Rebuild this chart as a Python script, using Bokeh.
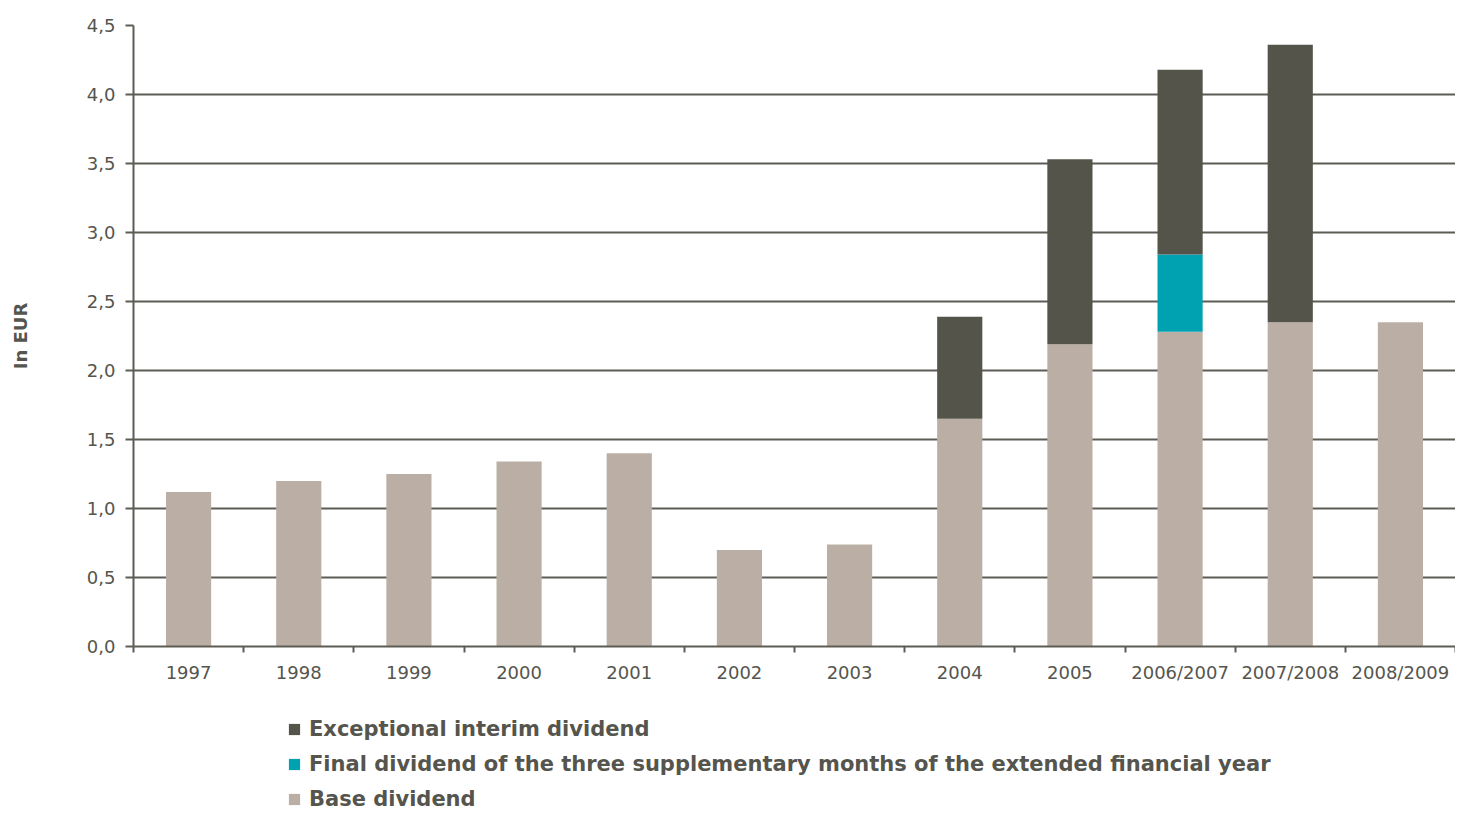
from bokeh.plotting import figure
from bokeh.layouts import column
from bokeh.models import ColumnDataSource, FixedTicker, Legend, LegendItem, Range1d
from bokeh.embed import file_html
from bokeh.resources import INLINE

categories = ["1997", "1998", "1999", "2000", "2001", "2002", "2003", "2004",
              "2005", "2006/2007", "2007/2008", "2008/2009"]
base_dividend = [1.12, 1.20, 1.25, 1.34, 1.40, 0.70, 0.74, 1.65, 2.19, 2.28, 2.35, 2.35]
final_supplementary = [0, 0, 0, 0, 0, 0, 0, 0, 0, 0.56, 0, 0]
exceptional_interim = [0, 0, 0, 0, 0, 0, 0, 0.74, 1.34, 1.34, 2.01, 0]
y_ticks = [0.0, 0.5, 1.0, 1.5, 2.0, 2.5, 3.0, 3.5, 4.0, 4.5]
y_tick_labels = ["0,0", "0,5", "1,0", "1,5", "2,0", "2,5", "3,0", "3,5", "4,0", "4,5"]
series_names = ["Exceptional interim dividend",
                "Final dividend of the three supplementary months of the extended financial year",
                "Base dividend"]

C_BASE = "#bbafa5"
C_TEAL = "#00a1b1"
C_DARK = "#54544b"
C_TEXT = "#55554e"
C_AXIS = "#5c5c55"

x_pos = [i + 0.5 for i in range(len(categories))]
src = ColumnDataSource(dict(x=x_pos, base=base_dividend, final=final_supplementary,
                            exc=exceptional_interim))
stack_cols = ["base", "final", "exc"]
stack_colors = [C_BASE, C_TEAL, C_DARK]

p = figure(width=1455, height=700, x_range=Range1d(0, len(categories)),
           y_range=Range1d(0, 4.5), output_backend="svg", toolbar_location=None,
           min_border_left=133, min_border_top=25, min_border_bottom=54,
           min_border_right=0)

rs = p.vbar_stack(stack_cols, x="x", width=0.41, source=src,
                  fill_color=stack_colors, line_color=None)

# axes
p.xaxis.ticker = FixedTicker(ticks=x_pos, minor_ticks=list(range(len(categories) + 1)))
p.xaxis.major_label_overrides = {xv: c for xv, c in zip(x_pos, categories)}
p.xaxis.major_tick_out = 0
p.xaxis.major_tick_in = 0
p.xaxis.minor_tick_out = 6
p.xaxis.minor_tick_in = 0
p.xaxis.minor_tick_line_color = C_AXIS
p.xaxis.minor_tick_line_width = 2
p.xaxis.major_label_standoff = 9

p.yaxis.ticker = FixedTicker(ticks=y_ticks, minor_ticks=[])
p.yaxis.major_label_overrides = {v: l for v, l in zip(y_ticks, y_tick_labels)}
p.yaxis.major_tick_out = 8
p.yaxis.major_tick_in = 0
p.yaxis.major_tick_line_color = C_AXIS
p.yaxis.major_tick_line_width = 2
p.yaxis.major_label_standoff = 10
p.yaxis.axis_label = "In EUR"
p.yaxis.axis_label_standoff = 53
p.yaxis.axis_label_text_font = "DejaVu Sans"
p.yaxis.axis_label_text_font_style = "bold"
p.yaxis.axis_label_text_font_size = "18px"
p.yaxis.axis_label_text_color = C_TEXT

for ax in (p.xaxis, p.yaxis):
    ax.axis_line_color = C_AXIS
    ax.axis_line_width = 2
    ax.major_label_text_font = "DejaVu Sans"
    ax.major_label_text_font_size = "18px"
    ax.major_label_text_color = C_TEXT

p.xgrid.grid_line_color = None
p.ygrid.ticker = FixedTicker(ticks=y_ticks)
p.ygrid.grid_line_color = C_AXIS
p.ygrid.grid_line_width = 2
p.outline_line_color = None

# legend strip below the chart (its zero-width bars lie outside its visible range)
pl = figure(width=1455, height=111, x_range=Range1d(0, len(categories)),
            y_range=Range1d(50, 51), output_backend="svg", toolbar_location=None,
            x_axis_type=None, y_axis_type=None,
            min_border_left=0, min_border_right=0, min_border_top=0, min_border_bottom=0)
pl.outline_line_color = None
rl = pl.vbar_stack(stack_cols, x="x", width=0, source=src,
                   fill_color=stack_colors, line_color=None)

legend = Legend(items=[
    LegendItem(label=series_names[0], renderers=[rl[2]]),
    LegendItem(label=series_names[1], renderers=[rl[1]]),
    LegendItem(label=series_names[2], renderers=[rl[0]]),
], location=(154, 0))
legend.padding = 0
legend.margin = 0
legend.spacing = 11
legend.label_height = 24
legend.glyph_height = 14
legend.glyph_width = 14
legend.label_standoff = 8
legend.border_line_color = None
legend.background_fill_alpha = 0
legend.label_text_font = "DejaVu Sans"
legend.label_text_font_style = "bold"
legend.label_text_font_size = "21px"
legend.label_text_color = C_TEXT
pl.add_layout(legend)

layout = column(p, pl, spacing=0)
open("out.html", "w").write(file_html(layout, INLINE))
